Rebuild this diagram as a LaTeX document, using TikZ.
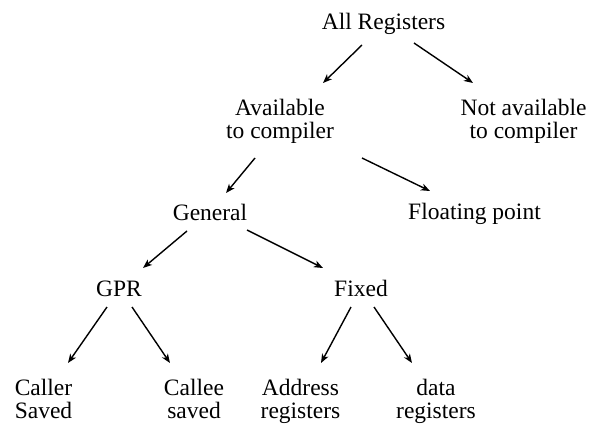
\documentclass[tikz,border=0pt]{standalone}
\usepackage{fontspec}
\setmainfont{Liberation Serif}
\usetikzlibrary{arrows.meta}
\begin{document}
\begin{tikzpicture}[x=1pt,y=-1pt,
  lbl/.style={font=\fontsize{23.5}{23.5}\selectfont,inner sep=0pt,align=center,anchor=base},
  arr/.style={line width=1.4pt,-{Stealth[length=9pt,width=7pt,inset=2.5pt]}}]
\useasboundingbox[fill=white] (0,0) rectangle (591,444);
% single-line nodes: base = baseline; two-line nodes: base = baseline of 2nd line
\node[lbl] (all) at (383.5,30) {All Registers};
\node[lbl] (avail) at (280,138.5) {Available\\to compiler};
\node[lbl] (notav) at (523.5,138.5) {Not available\\to compiler};
\node[lbl] (gen) at (210,220) {General};
\node[lbl] (flt) at (474.5,219) {Floating point};
\node[lbl] (gpr) at (119,296) {GPR};
\node[lbl] (fixed) at (361,296) {Fixed};
\node[lbl] (caller) at (43.5,418.5) {Caller\\Saved};
\node[lbl] (callee) at (194,418.5) {Callee\\saved};
\node[lbl] (addr) at (300.5,418.5) {Address\\registers};
\node[lbl] (data) at (436,418.5) {data\\registers};
\draw[arr] ([shift={(-21.5,15)}]all.base) -- ([shift={(43,-55.5)}]avail.base);
\draw[arr] ([shift={(30.5,13)}]all.base) -- ([shift={(-50.5,-55.5)}]notav.base);
\draw[arr] ([shift={(-25,19.5)}]avail.base) -- ([shift={(16,-27)}]gen.base);
\draw[arr] ([shift={(82,19.5)}]avail.base) -- ([shift={(-44.5,-28)}]flt.base);
\draw[arr] ([shift={(-23,11)}]gen.base) -- ([shift={(24,-28)}]gpr.base);
\draw[arr] ([shift={(37,10)}]gen.base) -- ([shift={(-38,-28)}]fixed.base);
\draw[arr] ([shift={(-12,11)}]gpr.base) -- ([shift={(24.5,-55.5)}]caller.base);
\draw[arr] ([shift={(13,11)}]gpr.base) -- ([shift={(-24,-55.5)}]callee.base);
\draw[arr] ([shift={(-10,11)}]fixed.base) -- ([shift={(20.5,-55.5)}]addr.base);
\draw[arr] ([shift={(13,11)}]fixed.base) -- ([shift={(-24,-55.5)}]data.base);
\end{tikzpicture}
\end{document}
